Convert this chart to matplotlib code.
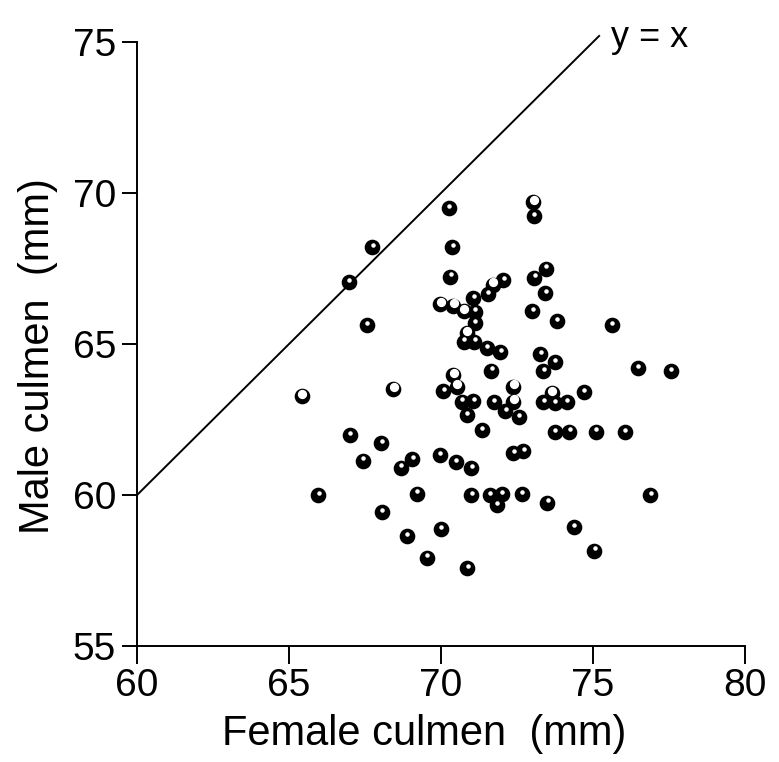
import numpy as np
import matplotlib.pyplot as plt
from matplotlib.transforms import offset_copy

plt.rcParams['font.family'] = ['Liberation Sans', 'DejaVu Sans']

# solid (filled) points: female culmen, male culmen (mm)
female_solid = [66.97, 67.74, 67.55, 70.26, 70.37, 70.31, 73.06, 73.44, 73.07, 72.05,
                71.53, 73.43, 73.00, 73.80, 75.61, 71.06, 71.12, 71.12, 70.74, 71.09,
                71.50, 71.95, 73.26, 73.75, 73.37, 71.65, 76.47, 77.55, 70.08, 70.68,
                71.06, 70.84, 71.73, 72.11, 72.55, 73.37, 73.75, 74.14, 74.70, 71.35,
                73.75, 74.22, 75.10, 76.05, 72.38, 72.71, 69.95, 70.48, 70.99, 70.99,
                71.61, 71.99, 71.83, 72.65, 73.50, 76.88, 74.37, 70.00, 67.00, 68.03,
                67.42, 68.67, 69.05, 65.96, 69.20, 68.05, 68.87, 69.53, 70.86, 75.04]
male_solid = [67.06, 68.22, 65.63, 69.50, 68.22, 67.23, 69.24, 67.50, 67.20, 67.12,
              66.65, 66.68, 66.09, 65.77, 65.63, 66.51, 66.07, 65.69, 65.08, 65.08,
              64.87, 64.74, 64.67, 64.40, 64.10, 64.12, 64.20, 64.10, 63.43, 63.09,
              63.12, 62.64, 63.07, 62.77, 62.58, 63.07, 63.04, 63.07, 63.40, 62.15,
              62.07, 62.10, 62.10, 62.08, 61.38, 61.46, 61.33, 61.09, 60.89, 60.00,
              60.00, 60.02, 59.67, 60.02, 59.75, 60.00, 58.93, 58.86, 61.99, 61.71,
              61.14, 60.91, 61.18, 60.00, 60.05, 59.44, 58.63, 57.93, 57.57, 58.16]

# hollow-looking points
female_open = [73.04, 71.70, 69.97, 70.41, 70.74, 70.84, 65.42, 68.43, 70.41, 70.52,
               72.38, 72.38, 73.64]
male_open = [69.71, 66.97, 66.32, 66.27, 66.10, 65.36, 63.28, 63.50, 63.97, 63.59,
             63.59, 63.09, 63.37]

fig = plt.figure(figsize=(7.79, 7.62), dpi=100)
ax = fig.add_axes([0.1759, 0.1522, 0.7805, 0.7927])

# y = x reference line
ax.plot([60, 75.2], [60, 75.2], color='black', lw=1.4, clip_on=False)
ax.text(75.6, 75.15, 'y = x', fontsize=26, va='center', ha='left', clip_on=False)

hl = offset_copy(ax.transData, fig=fig, x=0.3, y=1.6, units='points')
ax.scatter(female_solid, male_solid, s=105, color='black', zorder=3)
ax.scatter(female_solid, male_solid, s=5, color='white', transform=hl, zorder=4)
ax.scatter(female_open, male_open, s=105, color='black', zorder=3)
ax.scatter(female_open, male_open, s=32, color='white', transform=hl, zorder=4)

ax.set_xlim(60, 80)
ax.set_ylim(55, 75)
ax.set_xticks([60, 65, 70, 75, 80])
ax.set_yticks([55, 60, 65, 70, 75])
ax.spines['top'].set_visible(False)
ax.spines['right'].set_visible(False)
ax.spines['left'].set_linewidth(1.4)
ax.spines['bottom'].set_linewidth(1.4)
ax.tick_params(axis='x', direction='out', length=13, width=1.4, labelsize=28, pad=3)
ax.tick_params(axis='y', direction='out', length=11, width=1.4, labelsize=28, pad=4)

ax.set_xlabel('Female culmen  (mm)', fontsize=30)
ax.set_ylabel('Male culmen  (mm)', fontsize=30)
ax.xaxis.set_label_coords(0.472, -0.112)
ax.yaxis.set_label_coords(-0.13, 0.48)

fig.savefig('out.png', dpi=100)
